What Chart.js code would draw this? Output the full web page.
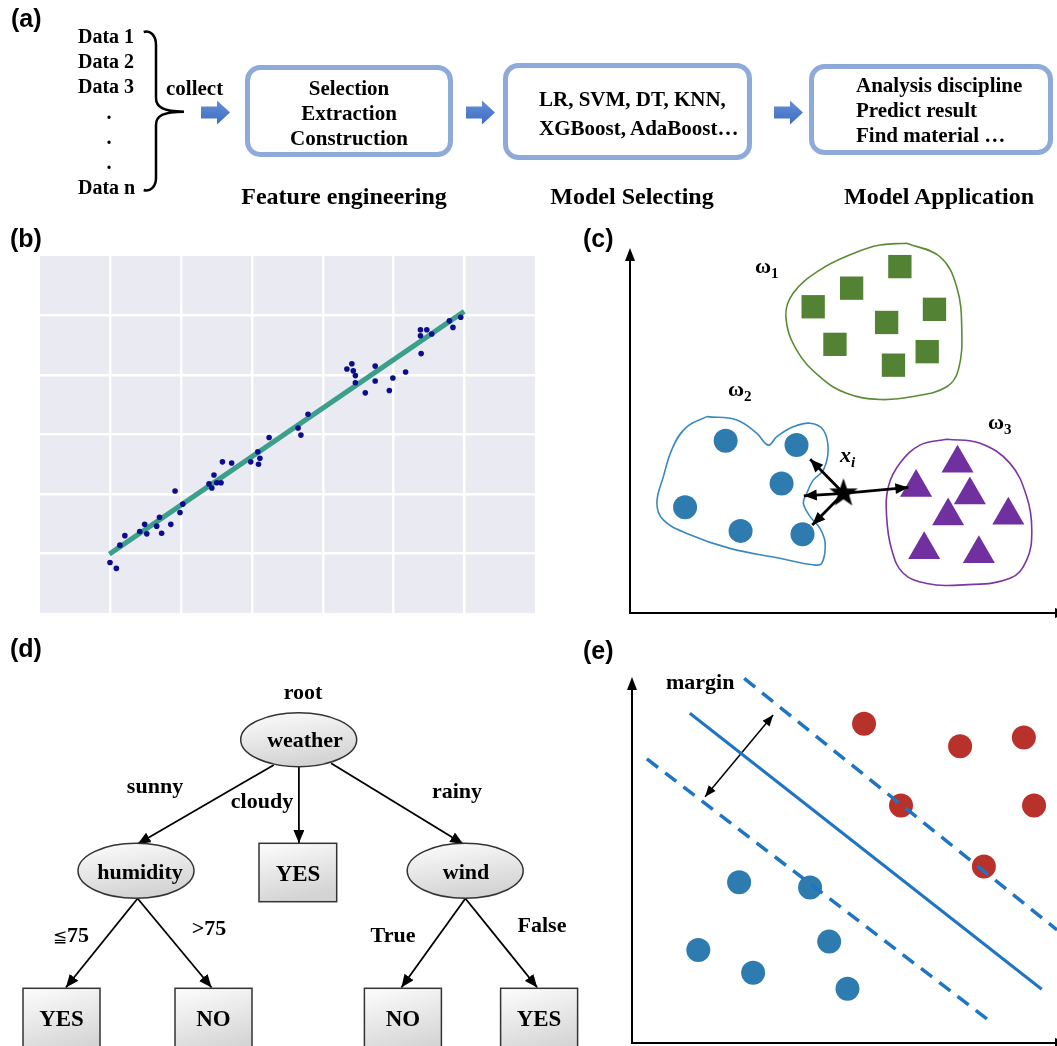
<!DOCTYPE html>
<html>
<head>
<meta charset="utf-8">
<script src="https://cdn.jsdelivr.net/npm/chart.js@4.4.1/dist/chart.umd.min.js"></script>
<style>
  html, body { margin: 0; padding: 0; background: #fff; }
  #fig { position: relative; width: 1057px; height: 1046px; overflow: hidden; background: #fff; }
  .box { position: absolute; }
  svg { position: absolute; left: 0; top: 0; }
  .serif { font-family: "Liberation Serif", "Times New Roman", serif; font-weight: bold; }
  .lab { font-family: "Liberation Sans", Arial, sans-serif; font-weight: bold; font-size: 25px; }
</style>
</head>
<body>
<div id="fig">
  <div class="box" style="left:40px; top:256px; width:495px; height:357px;"><canvas id="chartB"></canvas></div>
  <div class="box" style="left:600px; top:238px; width:457px; height:385px;"><canvas id="chartC"></canvas></div>
  <div class="box" style="left:600px; top:665px; width:457px; height:381px;"><canvas id="chartE"></canvas></div>

  <svg width="1057" height="1046" viewBox="0 0 1057 1046">
    <defs>
      <linearGradient id="blockG" x1="0" y1="0" x2="0" y2="1">
        <stop offset="0" stop-color="#6690d8"/><stop offset="1" stop-color="#3d6bc1"/>
      </linearGradient>
      <linearGradient id="nodeG" x1="0" y1="0" x2="0.3" y2="1">
        <stop offset="0" stop-color="#fdfdfd"/><stop offset="1" stop-color="#d4d4d4"/>
      </linearGradient>
      <marker id="ah" viewBox="0 0 13 11" refX="13" refY="5.5" markerWidth="13" markerHeight="11"
              markerUnits="userSpaceOnUse" orient="auto">
        <path d="M0,0 L13,5.5 L0,11 z" fill="#000"/>
      </marker>
    </defs>

    <!-- panel labels -->
    <text class="lab" x="11" y="27">(a)</text>
    <text class="lab" x="10" y="247">(b)</text>
    <text class="lab" x="583" y="247">(c)</text>
    <text class="lab" x="10" y="657">(d)</text>
    <text class="lab" x="583" y="659">(e)</text>

    <!-- (a) workflow -->
    <g class="serif" font-size="20">
      <text x="78" y="43">Data 1</text>
      <text x="78" y="68">Data 2</text>
      <text x="78" y="93">Data 3</text>
      <text x="109" y="119" text-anchor="middle">.</text>
      <text x="109" y="144" text-anchor="middle">.</text>
      <text x="109" y="169" text-anchor="middle">.</text>
      <text x="78" y="194">Data n</text>
    </g>
    <path d="M143.7,32 C150,30 156,35 156,45 L156,98 C156,107 163,111.7 184,111.7 C163,111.7 156,116 156,125 L156,178 C156,187 150,192 143.7,190"
          fill="none" stroke="#000" stroke-width="2.5"/>
    <text class="serif" font-size="21" x="166" y="95">collect</text>

    <g fill="url(#blockG)">
      <polygon points="201,106.5 217,106.5 217,100.5 230,112.5 217,124.5 217,118.5 201,118.5"/>
      <polygon points="466,106.5 482,106.5 482,100.5 495,112.5 482,124.5 482,118.5 466,118.5"/>
      <polygon points="774,106.5 790,106.5 790,100.5 803,112.5 790,124.5 790,118.5 774,118.5"/>
    </g>

    <g fill="#fff" stroke="#8eaadb" stroke-width="5">
      <rect x="247.5" y="67.5" width="203" height="87" rx="13"/>
      <rect x="505.5" y="65.5" width="244" height="92" rx="13"/>
      <rect x="811.5" y="66.5" width="239" height="86" rx="13"/>
    </g>
    <g class="serif" font-size="21">
      <text x="349" y="95" text-anchor="middle">Selection</text>
      <text x="349" y="120" text-anchor="middle">Extraction</text>
      <text x="349" y="145" text-anchor="middle">Construction</text>
      <text x="539" y="106">LR, SVM, DT, KNN,</text>
      <text x="539" y="135">XGBoost, AdaBoost…</text>
      <text x="856" y="92">Analysis discipline</text>
      <text x="856" y="117">Predict result</text>
      <text x="856" y="142">Find material …</text>
    </g>
    <g class="serif" font-size="24" text-anchor="middle">
      <text x="344" y="204">Feature engineering</text>
      <text x="632" y="204">Model Selecting</text>
      <text x="939" y="204">Model Application</text>
    </g>

    <!-- (c) labels -->
    <g class="serif" font-size="22">
      <text x="755" y="273">ω<tspan font-size="15" dy="5">1</tspan></text>
      <text x="728" y="396">ω<tspan font-size="15" dy="5">2</tspan></text>
      <text x="988" y="429">ω<tspan font-size="15" dy="5">3</tspan></text>
      <text x="840" y="462" font-style="italic">x<tspan font-size="15" dy="5">i</tspan></text>
    </g>

    <!-- (e) label -->
    <text class="serif" font-size="22" x="666" y="689">margin</text>

    <!-- (d) decision tree -->
    <g stroke="#000" stroke-width="1.8" marker-end="url(#ah)">
      <line x1="273.8" y1="765" x2="137.6" y2="844"/>
      <line x1="298.9" y1="767" x2="298.9" y2="843"/>
      <line x1="331.1" y1="763.3" x2="463.2" y2="844"/>
      <line x1="137.6" y1="898.5" x2="65.9" y2="987.5"/>
      <line x1="137.6" y1="898.5" x2="211.6" y2="987.5"/>
      <line x1="465.4" y1="898.5" x2="401.4" y2="987.5"/>
      <line x1="465.4" y1="898.5" x2="537.2" y2="987.5"/>
    </g>
    <g fill="url(#nodeG)" stroke="#333" stroke-width="1.5">
      <ellipse cx="298.7" cy="739.7" rx="58" ry="27"/>
      <ellipse cx="136" cy="870.8" rx="58" ry="27.5"/>
      <ellipse cx="465.2" cy="870.8" rx="58" ry="27.5"/>
      <rect x="259" y="843.3" width="77.7" height="58.4"/>
      <rect x="23" y="988.3" width="77" height="70"/>
      <rect x="175" y="988.3" width="77" height="70"/>
      <rect x="364.4" y="988.3" width="77" height="70"/>
      <rect x="500.6" y="988.3" width="77" height="70"/>
    </g>
    <g class="serif" font-size="22" text-anchor="middle">
      <text x="303" y="699">root</text>
      <text x="305" y="747">weather</text>
      <text x="140" y="879">humidity</text>
      <text x="466" y="879">wind</text>
      <text x="298" y="881" font-size="23">YES</text>
      <text x="61.5" y="1026" font-size="23">YES</text>
      <text x="213.5" y="1026" font-size="23">NO</text>
      <text x="403" y="1026" font-size="23">NO</text>
      <text x="539" y="1026" font-size="23">YES</text>
      <text x="155" y="793">sunny</text>
      <text x="262" y="808">cloudy</text>
      <text x="457" y="798">rainy</text>
      <text x="71" y="942"><tspan font-size="17" font-weight="normal">≦</tspan>75</text>
      <text x="209" y="935">&gt;75</text>
      <text x="393" y="942">True</text>
      <text x="542" y="932">False</text>
    </g>
  </svg>
</div>

<script>
// ---------- (b) linear regression ----------
const regX = [-0.01, 0.08, 0.13, 0.20, 0.41, 0.48, 0.51, 0.65, 0.69, 0.72, 0.85, 0.91, 0.98, 1.02, 1.39, 1.43,
              1.46, 1.50, 1.56, 1.58, 1.71, 1.98, 2.08, 2.11, 2.09, 2.24, 2.65, 2.69, 2.79, 3.34, 3.41, 3.43,
              3.46, 3.46, 3.60, 3.74, 3.74, 3.94, 3.99, 4.17, 4.38, 4.38, 4.47, 4.54, 4.39, 4.79, 4.84, 4.95];
const regY = [0.85, 0.75, 1.14, 1.30, 1.37, 1.49, 1.33, 1.46, 1.61, 1.34, 1.49, 2.05, 1.69, 1.83, 2.17, 2.10,
              2.32, 2.19, 2.19, 2.54, 2.52, 2.54, 2.71, 2.60, 2.50, 2.95, 3.11, 2.99, 3.34, 4.10, 4.19, 4.07,
              3.99, 3.87, 3.70, 4.15, 3.90, 3.74, 3.95, 4.05, 4.76, 4.66, 4.76, 4.69, 4.36, 4.91, 4.80, 4.97];
const fitX = [-0.02, 5.0];
const fitY = [0.99, 5.07];

// ---------- (c) KNN clusters ----------
const squareX = [6.32, 5.19, 4.29, 7.13, 6.01, 4.80, 6.96, 6.17];
const squareY = [9.49, 8.90, 8.39, 8.32, 7.96, 7.36, 7.16, 6.79];
const dotX = [2.24, 3.90, 3.55, 1.29, 2.59, 4.04];
const dotY = [4.72, 4.60, 3.55, 2.90, 2.25, 2.16];
const triX = [7.67, 6.70, 7.96, 7.45, 8.86, 6.89, 8.17];
const triY = [4.10, 3.44, 3.23, 2.66, 2.68, 1.73, 1.62];
const starX = [5.00];
const starY = [3.28];
const nearX = [4.22, 4.07, 4.27, 6.52];
const nearY = [4.21, 3.21, 2.41, 3.44];
const greenEdgeX = [6.48, 7.26, 7.65, 7.77, 7.69, 7.42, 6.63, 5.85, 5.07, 4.45, 3.90, 3.65, 3.82, 4.45, 5.23, 5.85, 6.48];
const greenEdgeY = [10.13, 9.76, 8.94, 7.75, 6.66, 6.20, 5.93, 5.85, 6.02, 6.47, 7.21, 8.12, 8.76, 9.40, 9.85, 10.08, 10.13];
const blueEdgeX = [1.80, 2.50, 2.97, 3.24, 3.44, 3.82, 4.22, 4.53, 4.64, 4.53, 4.29, 4.14, 4.06, 4.22, 4.45, 4.57, 4.49,
                   4.29, 3.51, 2.34, 1.33, 0.78, 0.63, 0.78, 1.01, 1.33, 1.80];
const blueEdgeY = [5.38, 5.29, 4.92, 4.60, 4.83, 5.10, 5.20, 5.01, 4.47, 3.92, 3.64, 3.28, 3.01, 2.64, 2.32, 1.91, 1.36,
                   1.32, 1.50, 1.77, 2.18, 2.55, 3.01, 3.73, 4.56, 5.10, 5.38];
const purpleEdgeX = [7.42, 8.20, 8.90, 9.29, 9.41, 9.29, 8.90, 7.81, 6.95, 6.40, 6.13, 6.01, 6.05, 6.32, 6.79, 7.42];
const purpleEdgeY = [4.76, 4.65, 4.10, 3.19, 2.27, 1.45, 0.95, 0.77, 0.81, 1.09, 1.73, 2.64, 3.46, 4.10, 4.60, 4.76];

// ---------- (e) SVM ----------
const redX = [5.46, 7.72, 9.22, 6.33, 9.46, 8.28];
const redY = [8.72, 8.11, 8.35, 6.49, 6.49, 4.82];
const blueX = [2.52, 4.19, 1.56, 4.64, 2.85, 5.07];
const blueY = [4.39, 4.25, 2.54, 2.77, 1.92, 1.48];
const hyperX = [1.36, 9.64];
const hyperY = [9.01, 1.47];
const upperX = [2.64, 10.0];
const upperY = [9.96, 3.09];
const lowerX = [0.35, 8.35];
const lowerY = [7.76, 0.66];
const marginX = [3.32, 1.72];
const marginY = [8.96, 6.73];

function pts(xs, ys) {
    return xs.map((x, i) => ({ x: x, y: ys[i] }));
}

// arrow heads on datasets flagged with "arrow"
function drawHead(ctx, from, to, len, w) {
    const a = Math.atan2(to.y - from.y, to.x - from.x);
    const bx = to.x - len * Math.cos(a), by = to.y - len * Math.sin(a);
    ctx.beginPath();
    ctx.moveTo(to.x, to.y);
    ctx.lineTo(bx + w / 2 * Math.sin(a), by - w / 2 * Math.cos(a));
    ctx.lineTo(bx - w / 2 * Math.sin(a), by + w / 2 * Math.cos(a));
    ctx.closePath();
    ctx.fill();
}
const arrowHeads = {
    id: "arrowHeads",
    afterDatasetsDraw(chart) {
        const ctx = chart.ctx;
        chart.data.datasets.forEach((ds, i) => {
            if (!ds.arrow) return;
            const p = chart.getDatasetMeta(i).data;
            const a = p[0], b = p[p.length - 1];
            ctx.save();
            ctx.fillStyle = ds.borderColor;
            drawHead(ctx, a, b, ds.headLen, ds.headWidth);
            if (ds.arrow === "both") drawHead(ctx, b, a, ds.headLen, ds.headWidth);
            ctx.restore();
        });
    }
};
// plain black axes with arrows, along the chart area edges
const arrowAxes = {
    id: "arrowAxes",
    afterDraw(chart) {
        const { left, right, top, bottom } = chart.chartArea;
        const ctx = chart.ctx;
        ctx.save();
        ctx.strokeStyle = "#000";
        ctx.fillStyle = "#000";
        ctx.lineWidth = 2;
        ctx.beginPath();
        ctx.moveTo(left, top + 10);
        ctx.lineTo(left, bottom);
        ctx.lineTo(right, bottom);
        ctx.stroke();
        drawHead(ctx, { x: left, y: bottom }, { x: left, y: top }, 13, 10);
        drawHead(ctx, { x: left, y: bottom }, { x: right + 11, y: bottom }, 13, 10);
        ctx.restore();
    }
};
const plotBg = {
    id: "plotBg",
    beforeDraw(chart) {
        const { left, top, width, height } = chart.chartArea;
        chart.ctx.save();
        chart.ctx.fillStyle = "#eaeaf2";
        chart.ctx.fillRect(left, top, width, height);
        chart.ctx.restore();
    }
};

function makeStar(R, r) {
    const c = document.createElement("canvas");
    c.width = c.height = 2 * R + 2;
    const g = c.getContext("2d");
    g.fillStyle = "#000";
    g.beginPath();
    for (let k = 0; k < 10; k++) {
        const rad = k % 2 ? r : R;
        const ang = -Math.PI / 2 + k * Math.PI / 5;
        g.lineTo(R + 1 + rad * Math.cos(ang), R + 1 + rad * Math.sin(ang));
    }
    g.closePath();
    g.fill();
    return c;
}

const hiddenScale = (min, max) => ({ type: "linear", min: min, max: max, display: false });
const baseOptions = (padding) => ({
    responsive: true,
    maintainAspectRatio: false,
    animation: false,
    events: [],
    layout: { padding: padding, autoPadding: false },
    plugins: { legend: { display: false }, tooltip: { enabled: false } },
    elements: { line: { capBezierPoints: false } }
});

// (b)
const edgeTick = (lo, hi) => (c) => (c.tick && (c.tick.value === lo || c.tick.value === hi)) ? "rgba(0,0,0,0)" : "#ffffff";
new Chart(document.getElementById("chartB"), {
    type: "scatter",
    data: {
        datasets: [
            { data: pts(regX, regY), pointRadius: 2.8, backgroundColor: "#0c0c8c", borderWidth: 0, order: 0 },
            { data: pts(fitX, fitY), showLine: true, borderColor: "#3b9f8b", borderWidth: 5, pointRadius: 0, order: 1 }
        ]
    },
    options: Object.assign(baseOptions(0), {
        scales: {
            x: { type: "linear", min: -1, max: 6, ticks: { display: false, stepSize: 1 },
                 grid: { color: edgeTick(-1, 6), lineWidth: 2.5, drawTicks: false }, border: { display: false } },
            y: { type: "linear", min: 0, max: 6, ticks: { display: false, stepSize: 1 },
                 grid: { color: edgeTick(0, 6), lineWidth: 2.5, drawTicks: false }, border: { display: false } }
        }
    }),
    plugins: [plotBg]
});

// (c)
const edge = (xs, ys, color) => ({
    data: pts(xs, ys), showLine: true, tension: 0.4, borderColor: color, borderWidth: 1.6,
    pointRadius: 0, clip: false, order: 3
});
const nearArrows = nearX.map((x, i) => ({
    data: pts([starX[0], x], [starY[0], nearY[i]]), showLine: true, borderColor: "#000", borderWidth: 2.8,
    pointRadius: 0, arrow: "end", headLen: 13, headWidth: 11, order: 1
}));
new Chart(document.getElementById("chartC"), {
    type: "scatter",
    data: {
        datasets: [
            edge(greenEdgeX, greenEdgeY, "#5b8c35"),
            edge(blueEdgeX, blueEdgeY, "#3a88c0"),
            edge(purpleEdgeX, purpleEdgeY, "#7a35a8"),
            { data: pts(squareX, squareY), pointStyle: "rect", pointRadius: 16.5, backgroundColor: "#548235", borderWidth: 0, order: 2 },
            { data: pts(dotX, dotY), pointStyle: "circle", pointRadius: 12, backgroundColor: "#2e7bb0", borderWidth: 0, order: 2 },
            { data: pts(triX, triY), pointStyle: "triangle", pointRadius: 18.5, backgroundColor: "#7030a0", borderWidth: 0, order: 2 },
            ...nearArrows,
            { data: pts(starX, starY), pointStyle: makeStar(15, 6), order: 0 }
        ]
    },
    options: Object.assign(baseOptions({ left: 30, top: 10, right: 0, bottom: 10 }), {
        scales: { x: hiddenScale(0, 10), y: hiddenScale(0, 10) }
    }),
    plugins: [arrowHeads, arrowAxes]
});

// (e)
const svmLine = (xs, ys, dash, w) => ({
    data: pts(xs, ys), showLine: true, borderColor: "#1f74c4", borderWidth: w, borderDash: dash,
    pointRadius: 0, clip: false, order: 0
});
new Chart(document.getElementById("chartE"), {
    type: "scatter",
    data: {
        datasets: [
            svmLine(hyperX, hyperY, [], 3),
            svmLine(upperX, upperY, [14, 9], 3.5),
            svmLine(lowerX, lowerY, [14, 9], 3.5),
            { data: pts(marginX, marginY), showLine: true, borderColor: "#000", borderWidth: 1.5, pointRadius: 0,
              arrow: "both", headLen: 11, headWidth: 9, order: 0 },
            { data: pts(redX, redY), pointRadius: 12, backgroundColor: "#b8312a", borderWidth: 0, order: 1 },
            { data: pts(blueX, blueY), pointRadius: 12, backgroundColor: "#2e7bb0", borderWidth: 0, order: 1 }
        ]
    },
    options: Object.assign(baseOptions({ left: 32, top: 12, right: 0, bottom: 3 }), {
        scales: { x: hiddenScale(0, 10), y: hiddenScale(0, 10) }
    }),
    plugins: [arrowHeads, arrowAxes]
});
</script>
</body>
</html>
